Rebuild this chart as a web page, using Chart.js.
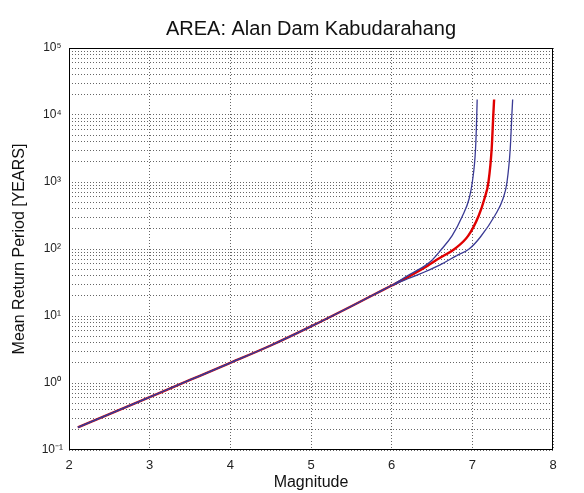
<!DOCTYPE html>
<html>
<head>
<meta charset="utf-8">
<script src="https://cdn.jsdelivr.net/npm/chart.js@4/dist/chart.umd.min.js"></script>
<style>
  html, body { margin: 0; padding: 0; background: #fff; }
  canvas { display: block; }
</style>
</head>
<body>
<canvas id="chart" width="584" height="493"></canvas>
<script>
// shared lower part of the three curves
const baseMag = [2.11, 2.5, 3, 3.5, 4, 4.5, 5, 5.5, 5.8, 6.0];
const basePeriod = [0.217, 0.343, 0.617, 1.11, 2.0, 3.63, 7.0, 14.0, 21.5, 28.5];

// mean curve (red)
const meanMag = [6.2, 6.4, 6.6, 6.78, 6.95, 7.08, 7.15, 7.2, 7.24, 7.26, 7.27];
const meanPeriod = [38, 52, 74, 100, 158, 316, 562, 1000, 3160, 10000, 17000];

// lower bound (blue, left)
const lowMag = [6.2, 6.4, 6.5, 6.62, 6.75, 6.88, 6.96, 7.0, 7.04, 7.055, 7.06];
const lowPeriod = [40, 55, 68, 100, 158, 316, 562, 1000, 3160, 10000, 17000];

// upper bound (blue, right)
const highMag = [6.2, 6.4, 6.6, 6.8, 6.96, 7.1, 7.28, 7.38, 7.43, 7.47, 7.49, 7.5];
const highPeriod = [36, 45, 58, 79, 100, 151, 316, 562, 1000, 3160, 10000, 17000];

// tick labels
const xTicks = [2, 3, 4, 5, 6, 7, 8];
const yTicks = [0.1, 1, 10, 100, 1000, 10000, 100000];
const yTickLabels = ["10\u207B\u00B9", "10\u2070", "10\u00B9", "10\u00B2", "10\u00B3", "10\u2074", "10\u2075"];

function toPoints(mags, periods) {
  return mags.map((m, i) => ({ x: m, y: periods[i] }));
}

const dotted = [1, 2];
const gridColor = "rgba(0,0,0,0.6)";

const frame = {
  id: "frame",
  afterDraw(chart) {
    const { ctx, chartArea: a } = chart;
    ctx.save();
    ctx.strokeStyle = "#000";
    ctx.lineWidth = 1;
    ctx.strokeRect(a.left + 0.5, a.top + 0.5, a.right - a.left - 1, a.bottom - a.top - 1);
    ctx.restore();
  }
};

new Chart(document.getElementById("chart"), {
  type: "line",
  data: {
    datasets: [
      {
        label: "lower",
        data: toPoints(baseMag.concat(lowMag), basePeriod.concat(lowPeriod)),
        borderColor: "#3a3a94",
        borderWidth: 1.3,
        order: 1
      },
      {
        label: "upper",
        data: toPoints(baseMag.concat(highMag), basePeriod.concat(highPeriod)),
        borderColor: "#3a3a94",
        borderWidth: 1.3,
        order: 1
      },
      {
        label: "mean",
        data: toPoints(baseMag.concat(meanMag), basePeriod.concat(meanPeriod)),
        borderColor: "#e00000",
        borderWidth: 2.4,
        order: 2
      }
    ]
  },
  options: {
    responsive: false,
    animation: false,
    events: [],
    layout: { padding: { left: 0, right: 31, top: 0, bottom: 0 } },
    elements: {
      point: { radius: 0 },
      line: { cubicInterpolationMode: "monotone", fill: false }
    },
    plugins: {
      legend: { display: false },
      tooltip: { enabled: false },
      title: {
        display: true,
        text: "AREA: Alan Dam Kabudarahang",
        fullSize: false,
        color: "#111",
        font: { family: "Liberation Sans", size: 20, weight: "normal" },
        padding: { top: 17, bottom: 7 }
      }
    },
    scales: {
      x: {
        type: "linear",
        min: 2,
        max: 8,
        afterBuildTicks(scale) {
          scale.ticks = xTicks.map(v => ({ value: v }));
        },
        afterFit(scale) { scale.height = 43; },
        ticks: {
          color: "#222",
          font: { family: "Liberation Sans", size: 13 },
          padding: 8,
          maxRotation: 0
        },
        grid: { color: gridColor, drawTicks: false, lineWidth: 1 },
        border: { display: false, dash: dotted },
        title: {
          display: true,
          text: "Magnitude",
          color: "#111",
          font: { family: "Liberation Sans", size: 16 },
          padding: { top: 0, bottom: 1 }
        }
      },
      y: {
        type: "logarithmic",
        min: 0.1,
        max: 100000,
        afterBuildTicks(scale) {
          const t = [];
          yTicks.forEach((p, i) => {
            if (i === yTicks.length - 1) { t.push({ value: p }); return; }
            for (let k = 1; k < 10; k++) t.push({ value: +(p * k).toPrecision(3) });
          });
          scale.ticks = t;
        },
        afterFit(scale) { scale.width = 69; },
        ticks: {
          autoSkip: false,
          color: "#222",
          font: { family: "Liberation Sans", size: 12 },
          padding: 6,
          crossAlign: "center",
          callback(value) {
            const i = yTicks.findIndex(p => Math.abs(p - value) / p < 1e-6);
            return i >= 0 ? yTickLabels[i] : "";
          }
        },
        grid: { color: gridColor, drawTicks: false, lineWidth: 1 },
        border: { display: false, dash: dotted },
        title: {
          display: true,
          text: "Mean Return Period [YEARS]",
          color: "#111",
          font: { family: "Liberation Sans", size: 16 },
          padding: { top: 10, bottom: 0 }
        }
      }
    }
  },
  plugins: [frame]
});
</script>
</body>
</html>
